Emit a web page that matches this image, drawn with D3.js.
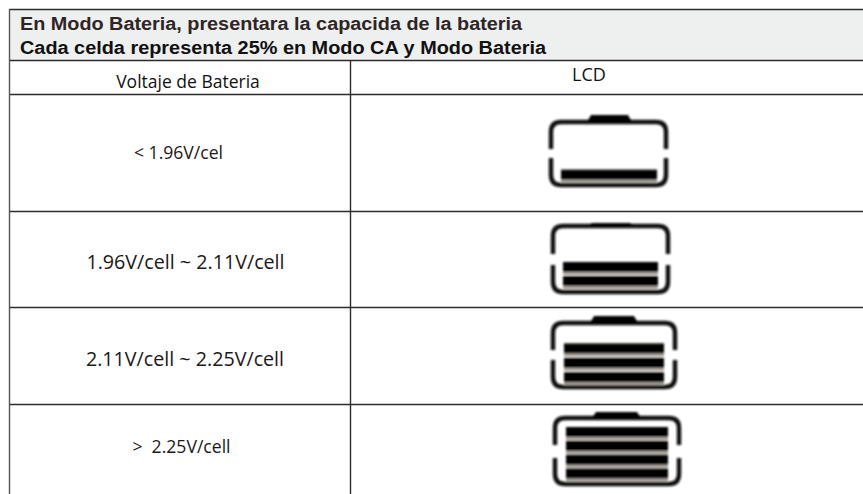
<!DOCTYPE html>
<html>
<head>
<meta charset="utf-8">
<script src="https://cdn.jsdelivr.net/npm/d3@7"></script>
<style>
    html, body { margin: 0; padding: 0; background: #fff; overflow: hidden; }
    svg { display: block; }
</style>
</head>
<body>
<div id="chart"></div>
<script>
const titleLines = ['En Modo Bateria, presentara la capacida de la bateria', 'Cada celda representa 25% en Modo CA y Modo Bateria'];
const columnHeaders = ['Voltaje de Bateria', 'LCD'];
const voltageLabels = ['< 1.96V/cel', '1.96V/cell ~ 2.11V/cell', '2.11V/cell ~ 2.25V/cell', '>  2.25V/cell'];
const cellCounts = [1, 2, 3, 4];

const width = 863;
const height = 494;

const svg = d3.select('#chart').append('svg')
    .attr('width', width)
    .attr('height', height)
    .attr('viewBox', `0 0 ${width} ${height}`);

// the icons are a scanned picture in the reference, so soften them a bit
svg.append('defs').append('filter')
    .attr('id', 'soft')
    .append('feGaussianBlur')
    .attr('stdDeviation', 0.8);

const tableLeft = 9;
const tableRight = 863;
const tableTop = 9;
const divider = 350;
const headerBottom = 60;
const columnBottom = 94;
const rowLines = [211, 307, 404];

svg.append('rect')
    .attr('x', tableLeft)
    .attr('y', tableTop)
    .attr('width', tableRight - tableLeft)
    .attr('height', headerBottom - tableTop)
    .attr('fill', '#eeefef');

const hLines = [tableTop, headerBottom, columnBottom].concat(rowLines);
svg.selectAll('line.h')
    .data(hLines)
    .enter().append('line')
    .attr('class', 'h')
    .attr('x1', tableLeft)
    .attr('x2', tableRight)
    .attr('y1', d => d + 0.5)
    .attr('y2', d => d + 0.5)
    .attr('stroke', '#2c2c2c')
    .attr('stroke-width', 1.4);

svg.append('line')
    .attr('x1', tableLeft + 0.5)
    .attr('x2', tableLeft + 0.5)
    .attr('y1', tableTop)
    .attr('y2', height)
    .attr('stroke', '#555')
    .attr('stroke-width', 1.4);

svg.append('line')
    .attr('x1', divider + 0.5)
    .attr('x2', divider + 0.5)
    .attr('y1', headerBottom)
    .attr('y2', height)
    .attr('stroke', '#2c2c2c')
    .attr('stroke-width', 1.4);

svg.selectAll('text.title')
    .data(titleLines)
    .enter().append('text')
    .attr('class', 'title')
    .attr('x', 20)
    .attr('y', (d, i) => 30 + i * 24)
    .attr('font-family', '"Liberation Sans", Arial, sans-serif')
    .attr('font-weight', 'bold')
    .attr('font-size', '18px')
    .attr('textLength', (d, i) => i === 0 ? 502 : 526)
    .attr('lengthAdjust', 'spacingAndGlyphs')
    .attr('fill', (d, i) => i === 0 ? '#2e2525' : '#111')
    .text(d => d);

svg.selectAll('text.column')
    .data(columnHeaders)
    .enter().append('text')
    .attr('class', 'column')
    .attr('x', (d, i) => i === 0 ? 188 : 589)
    .attr('y', (d, i) => i === 0 ? 88 : 81)
    .attr('text-anchor', 'middle')
    .attr('font-family', '"Open Sans", sans-serif')
    .attr('font-size', (d, i) => i === 0 ? '17.5px' : '18px')
    .attr('fill', '#111')
    .text(d => d);

// label baselines and sizes vary per row in the reference
const labelX = [178.5, 185.5, 185, 181.5];
const labelY = [159, 269, 366, 453];
const labelSize = [17.6, 19.7, 19.7, 17.6];

svg.selectAll('text.voltage')
    .data(voltageLabels)
    .enter().append('text')
    .attr('class', 'voltage')
    .attr('x', (d, i) => labelX[i])
    .attr('y', (d, i) => labelY[i])
    .attr('text-anchor', 'middle')
    .attr('font-family', '"Open Sans", sans-serif')
    .attr('font-size', (d, i) => labelSize[i] + 'px')
    .attr('fill', '#1c1818')
    .style('white-space', 'pre')
    .text(d => d);

// every icon was pasted in at a slightly different spot
const iconBoxes = [
    { x0: 551, x1: 666, y0: 122, y1: 185, capX0: 587, capX1: 632, capY: 115, gapY0: 149, gapY1: 158, barX0: 561, barX1: 657, slotTop: 127, slotStep: 14.2 },
    { x0: 553, x1: 668, y0: 226, y1: 292, capX0: 588, capX1: 634, capY: 223, gapY0: 254, gapY1: 265, barX0: 563, barX1: 658, slotTop: 234, slotStep: 14 },
    { x0: 553, x1: 675, y0: 323, y1: 387, capX0: 590, capX1: 638, capY: 316, gapY0: 350, gapY1: 360, barX0: 564, barX1: 664, slotTop: 329, slotStep: 14.4 },
    { x0: 555, x1: 679, y0: 418, y1: 484, capX0: 592, capX1: 641, capY: 412, gapY0: 445, gapY1: 458, barX0: 566, barX1: 668, slotTop: 427, slotStep: 13.8 }
];

const icons = svg.selectAll('g.icon')
    .data(cellCounts)
    .enter().append('g')
    .attr('class', 'icon')
    .attr('filter', 'url(#soft)');

icons.each(function(count, i) {
    const box = iconBoxes[i];
    const g = d3.select(this);
    const r = 10;

    const upper = d3.path();
    upper.moveTo(box.x0, box.gapY0);
    upper.lineTo(box.x0, box.y0 + r);
    upper.quadraticCurveTo(box.x0, box.y0, box.x0 + r, box.y0);
    upper.lineTo(box.x1 - r, box.y0);
    upper.quadraticCurveTo(box.x1, box.y0, box.x1, box.y0 + r);
    upper.lineTo(box.x1, box.gapY0);

    const lower = d3.path();
    lower.moveTo(box.x0, box.gapY1);
    lower.lineTo(box.x0, box.y1 - r);
    lower.quadraticCurveTo(box.x0, box.y1, box.x0 + r, box.y1);
    lower.lineTo(box.x1 - r, box.y1);
    lower.quadraticCurveTo(box.x1, box.y1, box.x1, box.y1 - r);
    lower.lineTo(box.x1, box.gapY1);

    g.selectAll('path')
        .data([upper.toString(), lower.toString()])
        .enter().append('path')
        .attr('d', d => d)
        .attr('fill', 'none')
        .attr('stroke', '#0c0c0c')
        .attr('stroke-width', 4.4);

    g.append('path')
        .attr('d', `M${box.capX0},${box.y0} L${box.capX0 + 4},${box.capY} L${box.capX1 - 4},${box.capY} L${box.capX1},${box.y0} Z`)
        .attr('fill', '#060606');

    // slots are numbered from the bottom, the way the cells fill up
    const slotY = d3.scaleLinear()
        .domain([0, 3])
        .range([box.slotTop + box.slotStep * 3, box.slotTop]);

    g.selectAll('rect.back')
        .data(d3.range(count))
        .enter().append('rect')
        .attr('class', 'back')
        .attr('x', box.barX0)
        .attr('width', box.barX1 - box.barX0)
        .attr('y', d => slotY(d))
        .attr('height', 13)
        .attr('fill', '#a8a29b');

    g.selectAll('rect.cell')
        .data(d3.range(count))
        .enter().append('rect')
        .attr('class', 'cell')
        .attr('x', box.barX0)
        .attr('width', box.barX1 - box.barX0)
        .attr('y', d => slotY(d))
        .attr('height', 10)
        .attr('fill', '#050505');
});
</script>
</body>
</html>
